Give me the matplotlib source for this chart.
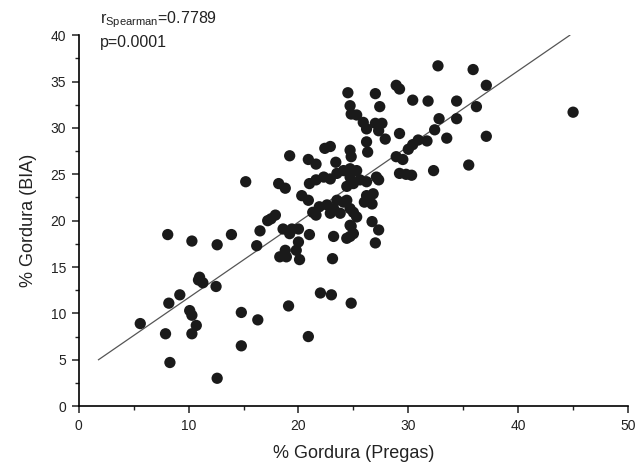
import matplotlib
matplotlib.use("Agg")
import matplotlib.pyplot as plt
from matplotlib.ticker import MultipleLocator

plt.rcParams['font.family'] = ['Liberation Sans', 'DejaVu Sans']

# % gordura por pregas (x) vs BIA (y)
pregas = [5.6, 7.9, 8.3, 8.2, 9.2, 10.1, 10.3, 10.7, 10.3, 10.9, 11.3, 11.0, 12.5, 12.6,
          14.8, 14.8, 16.3, 8.1, 10.3, 12.6, 13.9, 16.5, 16.2, 17.5, 17.9, 15.2, 19.1,
          20.9, 22.0, 23.0, 24.8, 23.1, 23.2, 18.3, 18.9, 18.8, 19.8, 20.0, 20.1, 18.6,
          19.4, 20.0, 19.2, 21.0, 24.7, 24.8, 25.0, 24.4, 27.0, 27.3, 26.7, 18.2, 18.8,
          20.3, 20.9, 21.3, 21.9, 22.6, 23.2, 23.8, 21.6, 22.9, 24.1, 24.4, 23.5, 24.7,
          25.0, 25.3, 24.7, 26.2, 26.0, 26.7, 26.8, 21.0, 21.6, 22.3, 22.9, 23.5, 24.1,
          24.7, 25.3, 24.7, 25.0, 24.4, 25.6, 26.2, 27.3, 27.1, 19.2, 20.9, 21.6, 22.4,
          22.9, 24.7, 24.8, 23.4, 24.5, 27.0, 28.9, 29.2, 24.7, 24.8, 25.3, 27.4, 25.9,
          26.2, 27.0, 27.6, 27.3, 27.9, 26.2, 26.3, 29.2, 28.9, 29.5, 29.2, 29.8, 30.3,
          32.7, 35.9, 37.1, 30.4, 31.8, 34.4, 36.2, 32.8, 34.4, 32.4, 30.9, 31.7, 30.4,
          30.0, 33.5, 37.1, 32.3, 35.5, 45.0, 17.2]
bia = [8.9, 7.8, 4.7, 11.1, 12.0, 10.3, 9.8, 8.7, 7.8, 13.6, 13.3, 13.9, 12.9, 3.0,
       10.1, 6.5, 9.3, 18.5, 17.8, 17.4, 18.5, 18.9, 17.3, 20.2, 20.6, 24.2, 10.8,
       7.5, 12.2, 12.0, 11.1, 15.9, 18.3, 16.1, 16.1, 16.8, 16.8, 17.7, 15.8, 19.1,
       19.1, 19.1, 18.6, 18.5, 18.3, 19.4, 18.6, 18.1, 17.6, 19.0, 19.9, 24.0, 23.5,
       22.7, 22.2, 20.9, 21.5, 21.7, 21.3, 20.8, 20.6, 20.8, 22.0, 22.2, 22.2, 21.3,
       20.9, 20.4, 19.5, 22.7, 22.0, 21.8, 22.9, 24.0, 24.4, 24.7, 24.5, 25.1, 25.4,
       25.6, 25.4, 24.7, 24.0, 23.7, 24.4, 24.2, 24.4, 24.7, 27.0, 26.6, 26.1, 27.8,
       28.0, 27.6, 26.9, 26.3, 33.8, 33.7, 34.6, 34.2, 32.4, 31.5, 31.4, 32.3, 30.6,
       29.9, 30.5, 30.5, 29.7, 28.8, 28.5, 27.4, 29.4, 26.9, 26.6, 25.1, 25.0, 24.9,
       36.7, 36.3, 34.6, 33.0, 32.9, 32.9, 32.3, 31.0, 31.0, 29.8, 28.7, 28.6, 28.2,
       27.7, 28.9, 29.1, 25.4, 26.0, 31.7, 20.0]

# reta de regressao (extremos)
reta_x = [1.8, 44.7]
reta_y = [5.0, 40.0]

fig = plt.figure(figsize=(6.35, 4.7), dpi=100)
ax = fig.add_axes([0.124, 0.136, 0.865, 0.789])

ax.scatter(pregas, bia, s=66, color='#1a1a1a', edgecolors='none', zorder=3)
ax.plot(reta_x, reta_y, color='#555555', linewidth=0.9, zorder=2)

ax.set_xlim(0, 50)
ax.set_ylim(0, 40)
ax.spines['top'].set_visible(False)
ax.spines['right'].set_visible(False)
ax.spines['left'].set_linewidth(1.2)
ax.spines['bottom'].set_linewidth(1.2)

ax.xaxis.set_major_locator(MultipleLocator(10))
ax.xaxis.set_minor_locator(MultipleLocator(5))
ax.yaxis.set_major_locator(MultipleLocator(5))
ax.yaxis.set_minor_locator(MultipleLocator(2.5))
ax.tick_params(which='major', direction='out', length=5, width=1.1, labelsize=10,
               colors='#222222', pad=4)
ax.tick_params(which='minor', direction='out', length=3, width=1.0, colors='#222222')

ax.set_xlabel('% Gordura (Pregas)', fontsize=13, color='#222222', labelpad=9)
ax.set_ylabel('% Gordura (BIA)', fontsize=13, color='#222222', labelpad=10)

fig.text(0.157, 0.958, r'r$_{\mathregular{Spearman}}$=0.7789', fontsize=11.5,
         color='#222222', va='center', ha='left')
fig.text(0.157, 0.91, 'p=0.0001', fontsize=11.5, color='#222222', va='center', ha='left')

fig.savefig('out.png', dpi=100)
